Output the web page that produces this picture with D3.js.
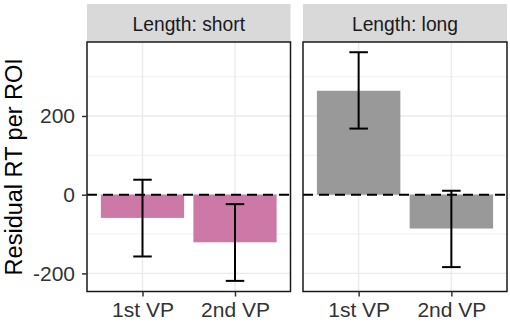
<!DOCTYPE html>
<html>
<head>
<meta charset="utf-8">
<script src="https://cdn.jsdelivr.net/npm/d3@7"></script>
<style>
  body { margin: 0; background: #fff; }
  svg { display: block; font-family: "Liberation Sans", Arial, sans-serif; }
</style>
</head>
<body>
<div id="chart"></div>
<script>
// DATA ------------------------------
const panels = ["short", "long"];
const categories = ["1st VP", "2nd VP"];
const meanShort = [-59, -121];
const lowShort = [-157, -219];
const highShort = [38, -24];
const meanLong = [264, -86];
const lowLong = [168, -184];
const highLong = [362, 10];
const panelColors = ["#CC79A7", "#999999"];
const yTicks = [-200, 0, 200];
const yMinor = [-100, 100, 300];

const series = {
  short: categories.map((c, i) => ({cat: c, mean: meanShort[i], lo: lowShort[i], hi: highShort[i]})),
  long: categories.map((c, i) => ({cat: c, mean: meanLong[i], lo: lowLong[i], hi: highLong[i]}))
};

// CHART INIT ------------------------------
const width = 510, height = 323;
const panelTop = 42, panelBottom = 291.5, stripTop = 4;
const panelX = [[87, 290.5], [303, 507]];

let svg = d3.select("#chart").append("svg")
  .attr("width", width)
  .attr("height", height);

let yScale = d3.scaleLinear()
  .domain([-246, 388])
  .range([panelBottom, panelTop]);

panels.forEach((p, pi) => {
  const [x0, x1] = panelX[pi];
  const pw = x1 - x0;
  // discrete scale with ggplot's 0.6 expansion
  let xScale = d3.scaleLinear()
    .domain([0.4, 2.6])
    .range([x0, x1]);
  const xPos = d => xScale(categories.indexOf(d) + 1);
  const unit = xScale(1) - xScale(0);

  let g = svg.append("g").attr("class", "panel-" + p);

  // strip
  g.append("rect")
    .attr("x", x0).attr("y", stripTop)
    .attr("width", pw).attr("height", panelTop - stripTop)
    .attr("fill", "#D9D9D9");
  g.append("text")
    .attr("x", (x0 + x1) / 2).attr("y", 30.5)
    .attr("text-anchor", "middle")
    .attr("font-size", 19.3)
    .attr("fill", "#1A1A1A")
    .text("Length: " + p);

  // grid
  g.selectAll(".minor").data(yMinor).enter().append("line")
    .attr("x1", x0).attr("x2", x1)
    .attr("y1", d => yScale(d)).attr("y2", d => yScale(d))
    .attr("stroke", "#EBEBEB").attr("stroke-width", 0.8);
  g.selectAll(".major").data(yTicks).enter().append("line")
    .attr("x1", x0).attr("x2", x1)
    .attr("y1", d => yScale(d)).attr("y2", d => yScale(d))
    .attr("stroke", "#EBEBEB").attr("stroke-width", 1.4);
  g.selectAll(".vgrid").data(categories).enter().append("line")
    .attr("x1", xPos).attr("x2", xPos)
    .attr("y1", panelTop).attr("y2", panelBottom)
    .attr("stroke", "#EBEBEB").attr("stroke-width", 1.4);

  // bars
  g.selectAll(".bar").data(series[p]).enter().append("rect")
    .attr("class", "bar")
    .attr("x", d => xPos(d.cat) - 0.45 * unit)
    .attr("width", 0.9 * unit)
    .attr("y", d => yScale(Math.max(0, d.mean)))
    .attr("height", d => Math.abs(yScale(d.mean) - yScale(0)))
    .attr("fill", panelColors[pi]);

  // zero line
  g.append("line")
    .attr("x1", x0).attr("x2", x1)
    .attr("y1", yScale(0)).attr("y2", yScale(0))
    .attr("stroke", "#000").attr("stroke-width", 2)
    .attr("stroke-dasharray", "10,6");

  // error bars
  let eb = g.selectAll(".err").data(series[p]).enter().append("g");
  eb.append("line")
    .attr("x1", d => xPos(d.cat)).attr("x2", d => xPos(d.cat))
    .attr("y1", d => yScale(d.lo)).attr("y2", d => yScale(d.hi));
  eb.append("line")
    .attr("x1", d => xPos(d.cat) - 0.1 * unit).attr("x2", d => xPos(d.cat) + 0.1 * unit)
    .attr("y1", d => yScale(d.lo)).attr("y2", d => yScale(d.lo));
  eb.append("line")
    .attr("x1", d => xPos(d.cat) - 0.1 * unit).attr("x2", d => xPos(d.cat) + 0.1 * unit)
    .attr("y1", d => yScale(d.hi)).attr("y2", d => yScale(d.hi));
  eb.selectAll("line").attr("stroke", "#000").attr("stroke-width", 2);

  // border
  g.append("rect")
    .attr("x", x0).attr("y", panelTop)
    .attr("width", pw).attr("height", panelBottom - panelTop)
    .attr("fill", "none").attr("stroke", "#1A1A1A").attr("stroke-width", 1.5);

  // x axis
  let xAxis = d3.axisBottom(xScale)
    .tickValues([1, 2])
    .tickFormat(d => categories[d - 1])
    .tickSize(5)
    .tickPadding(6);
  let xg = g.append("g")
    .attr("transform", "translate(0," + panelBottom + ")")
    .call(xAxis);
  xg.select(".domain").remove();
  xg.selectAll(".tick line").attr("stroke", "#333").attr("stroke-width", 1.5);
  xg.selectAll(".tick text")
    .attr("font-size", 21)
    .attr("font-family", "Liberation Sans, Arial, sans-serif")
    .attr("fill", "#333");

  // y axis on first panel only
  if (pi === 0) {
    let yAxis = d3.axisLeft(yScale)
      .tickValues(yTicks)
      .tickSize(5)
      .tickPadding(7)
      .tickFormat(d3.format("d"));
    let yg = g.append("g")
      .attr("transform", "translate(" + x0 + ",0)")
      .call(yAxis);
    yg.select(".domain").remove();
    yg.selectAll(".tick line").attr("stroke", "#333").attr("stroke-width", 1.5);
    yg.selectAll(".tick text")
      .attr("font-size", 21)
      .attr("font-family", "Liberation Sans, Arial, sans-serif")
      .attr("fill", "#333")
      .text(d => d < 0 ? "-" + Math.abs(d) : d);
  }
});

// y title
svg.append("text")
  .attr("transform", "translate(21.5," + (panelTop + panelBottom) / 2 + ") rotate(-90)")
  .attr("text-anchor", "middle")
  .attr("font-size", 23.5)
  .attr("fill", "#000")
  .text("Residual RT per ROI");
</script>
</body>
</html>
